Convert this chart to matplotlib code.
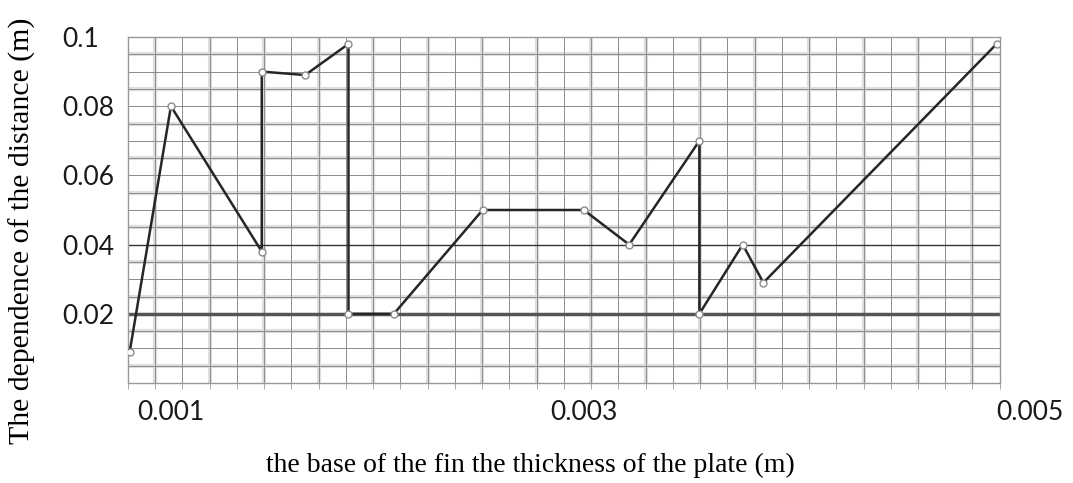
import numpy as np
import matplotlib
matplotlib.use("Agg")
import matplotlib.pyplot as plt

# values
thickness = [0.0008, 0.001, 0.00144, 0.00144, 0.00165, 0.00186, 0.00186, 0.00208,
             0.00251, 0.003, 0.00322, 0.00356, 0.00356, 0.00377, 0.00387, 0.005]
distance = [0.009, 0.08, 0.038, 0.09, 0.089, 0.098, 0.02, 0.02,
            0.05, 0.05, 0.04, 0.07, 0.02, 0.04, 0.029, 0.098]
x_ticks = [0.001, 0.003, 0.005]
x_tick_labels = ["0.001", "0.003", "0.005"]
y_ticks = [0.02, 0.04, 0.06, 0.08, 0.1]
y_tick_labels = ["0.02", "0.04", "0.06", "0.08", "0.1"]

fig = plt.figure(figsize=(10.73, 4.83), dpi=100)
ax = fig.add_axes([0.1193, 0.207, 0.8124, 0.7164])

xmin, xmax = 0.000792, 0.005015
ymin, ymax = 0.0, 0.1
ax.set_xlim(xmin, xmax)
ax.set_ylim(ymin, ymax)

#graph paper look: thin dark lines with a light band on every other one
xg = np.linspace(xmin, xmax, 33)
yg = np.linspace(ymin, ymax, 21)
for i, x in enumerate(xg):
    if i % 2 == 1:
        ax.axvline(x, color='#dedede', lw=3.0, zorder=0)
    ax.axvline(x, color='#8c8c8c', lw=0.7, zorder=0.5)
for i, y in enumerate(yg):
    if i % 2 == 1:
        ax.axhline(y, color='#dedede', lw=3.0, zorder=0)
    ax.axhline(y, color='#8c8c8c', lw=0.7, zorder=0.5)
ax.axhline(0.02, color='#555555', lw=2.5, zorder=0.6)
ax.axhline(0.04, color='#333333', lw=1.0, zorder=0.6)

ax.plot(thickness, distance, color='#262626', lw=1.8, marker='o', ms=5,
        mfc='white', mec='#8a8a8a', mew=1, zorder=3)

for s in ax.spines.values():
    s.set_color('#999999')
    s.set_linewidth(1.0)

ax.set_xticks(x_ticks)
ax.set_xticklabels(x_tick_labels, fontsize=19, family='Lato', color='#1a1a1a')
ax.get_xticklabels()[2].set_horizontalalignment('left')
ax.set_yticks(y_ticks)
ax.set_yticklabels(y_tick_labels, fontsize=19, family='Lato', color='#1a1a1a')
for lab in ax.get_yticklabels():
    lab.set_horizontalalignment('left')
ax.tick_params(axis='x', length=0, pad=12)
ax.tick_params(axis='y', length=0, pad=47)
ax.set_xticks(xg, minor=True)
ax.tick_params(axis='x', which='minor', length=4, color='#999999', direction='out')

fig.text(0.494, 0.037, "the base of the fin the thickness of the plate (m)",
         ha='center', va='center', fontsize=20, family='Liberation Serif')
fig.text(0.021, 0.522, "The dependence of the distance (m)", rotation=90,
         ha='center', va='center', fontsize=21.5, family='Liberation Serif')

plt.savefig('out.png', dpi=100)
